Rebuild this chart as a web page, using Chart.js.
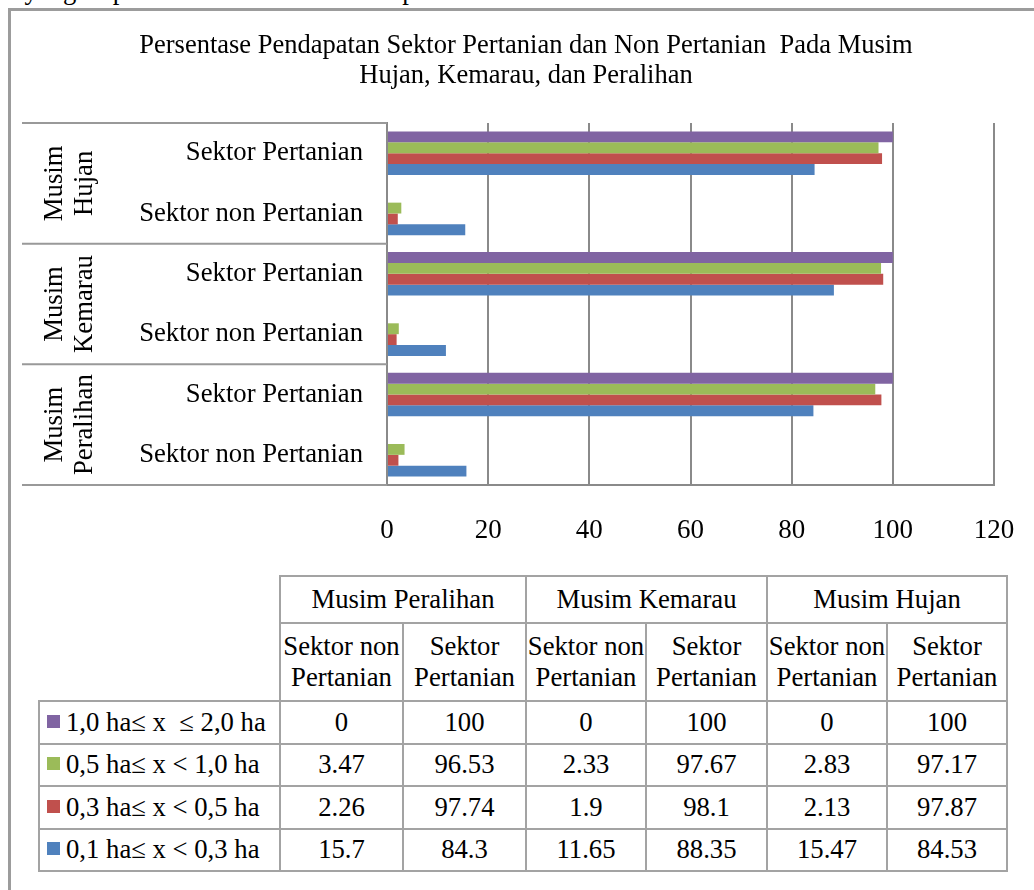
<!DOCTYPE html>
<html>
<head>
<meta charset="utf-8">
<script src="https://cdn.jsdelivr.net/npm/chart.js@4.4.1/dist/chart.umd.min.js"></script>
<style>
  html, body { margin: 0; padding: 0; background: #fff; overflow: hidden; }
  body { width: 1034px; height: 890px; position: relative; font-family: "Liberation Serif", "DejaVu Serif", serif; }
  #lead { position: absolute; left: 0px; top: -25px; font-size: 26.7px; line-height: 30px; word-spacing: 9px; white-space: nowrap; color: #000; }
  #frame { position: absolute; left: 8px; top: 8px; width: 1200px; height: 1000px; border-left: 3px solid #9c9c9c; border-top: 3px solid #9c9c9c; }
  #chart { position: absolute; left: 0; top: 0; }
  #tbl { position: absolute; left: 38px; top: 575px; border-collapse: collapse; font-size: 26.7px; color: #000; table-layout: fixed; }
  #tbl td { border: 2px solid #a3a3a3; text-align: center; padding: 0; line-height: 31px; }
  #tbl td.corner { border: none; }
  #tbl tr.h1 td { height: 45px; }
  #tbl tr.h2 td { height: 76px; }
  #tbl tr.d td { height: 40.5px; }
  #tbl td.key { text-align: left; padding-left: 7px; white-space: pre; }
  #tbl td.key span.sw { display: inline-block; width: 13px; height: 13px; margin-right: 6px; vertical-align: 3px; }
</style>
</head>
<body>
<div id="lead">- yang diperoleh dari sektor non pertanian</div>
<div id="frame"></div>
<canvas id="chart" width="1034" height="560"></canvas>
<table id="tbl"></table>
<script>
// Seasons and income sectors (category order as listed in the data table)
const seasons = ['Musim Peralihan', 'Musim Kemarau', 'Musim Hujan'];
const sectors = ['Sektor non Pertanian', 'Sektor Pertanian'];
const sectorHeader = [['Sektor non', 'Pertanian'], ['Sektor', 'Pertanian']];

// Land holding classes (series)
const landClasses = ['1,0 ha\u2264 x  \u2264 2,0 ha', '0,5 ha\u2264 x < 1,0 ha', '0,3 ha\u2264 x < 0,5 ha', '0,1 ha\u2264 x < 0,3 ha'];
const classColors = ['#8064A2', '#9BBB59', '#C0504D', '#4F81BD'];

// Income share (%) per season/sector: Peralihan non, Peralihan, Kemarau non, Kemarau, Hujan non, Hujan
const luas10to20 = [0, 100, 0, 100, 0, 100];
const luas05to10 = [3.47, 96.53, 2.33, 97.67, 2.83, 97.17];
const luas03to05 = [2.26, 97.74, 1.9, 98.1, 2.13, 97.87];
const luas01to03 = [15.7, 84.3, 11.65, 88.35, 15.47, 84.53];
const seriesValues = [luas10to20, luas05to10, luas03to05, luas01to03];

// Percentage axis
const xMin = 0, xMax = 120, xStep = 20;

const titleLines = ['Persentase Pendapatan Sektor Pertanian dan Non Pertanian  Pada Musim', 'Hujan, Kemarau, dan Peralihan'];

const serif = '"Liberation Serif", "DejaVu Serif", serif';
const lineGray = '#8a8a8a';

const categoryLabels = seasons.flatMap(() => sectors);

// Title, season group labels and separator lines in the label area
const decor = {
  id: 'decor',
  afterDraw(chart) {
    const { ctx, chartArea, scales } = chart;
    const y = scales.y;
    ctx.save();
    ctx.fillStyle = '#000';
    ctx.textAlign = 'center';
    ctx.textBaseline = 'middle';
    ctx.font = '26.5px ' + serif;
    titleLines.forEach((t, i) => ctx.fillText(t, 526, 46 + i * 30));

    ctx.strokeStyle = '#999';
    ctx.lineWidth = 2;
    const lines = [chartArea.top, chartArea.bottom];
    for (let s = 1; s < seasons.length; s++) {
      lines.push((y.getPixelForValue(s * 2 - 1) + y.getPixelForValue(s * 2)) / 2);
    }
    lines.forEach(py => {
      ctx.beginPath();
      ctx.moveTo(22, py);
      ctx.lineTo(chartArea.left, py);
      ctx.stroke();
    });

    ctx.font = '26.7px ' + serif;
    seasons.forEach((name, s) => {
      const cy = (y.getPixelForValue(s * 2) + y.getPixelForValue(s * 2 + 1)) / 2;
      const words = name.split(' ');
      ctx.save();
      ctx.translate(70, cy);
      ctx.rotate(-Math.PI / 2);
      ctx.fillText(words[0], 0, -15);
      ctx.fillText(words[1], 0, 15);
      ctx.restore();
    });
    ctx.restore();
  }
};

new Chart(document.getElementById('chart'), {
  type: 'bar',
  data: {
    labels: categoryLabels,
    datasets: landClasses.map((name, i) => ({
      label: name,
      data: seriesValues[i],
      backgroundColor: classColors[i],
      borderWidth: 0,
      categoryPercentage: 0.72,
      barPercentage: 1
    }))
  },
  options: {
    indexAxis: 'y',
    responsive: false,
    animation: false,
    devicePixelRatio: 1,
    layout: { padding: { top: 123, left: 10, right: 40, bottom: 0 } },
    plugins: {
      legend: { display: false },
      title: { display: false },
      tooltip: { enabled: false }
    },
    scales: {
      x: {
        min: xMin,
        max: xMax,
        ticks: { stepSize: xStep, color: '#000', font: { family: serif, size: 27 }, padding: 2 },
        grid: { color: lineGray, lineWidth: 2, drawTicks: true, tickLength: 28, tickColor: 'rgba(0,0,0,0)' },
        border: { color: lineGray, width: 2 },
        afterFit(scale) { scale.height = 75; }
      },
      y: {
        reverse: true,
        grid: { display: false },
        border: { display: true, color: lineGray, width: 2 },
        ticks: { color: '#000', font: { family: serif, size: 26.7 }, padding: 16, autoSkip: false },
        afterFit(scale) { scale.width = 377; }
      }
    }
  },
  plugins: [decor]
});

// Data table with legend keys
const tbl = document.getElementById('tbl');
const colWidths = [241, 123, 123, 120, 121, 120, 120];
const cg = document.createElement('colgroup');
colWidths.forEach(w => { const c = document.createElement('col'); c.style.width = w + 'px'; cg.appendChild(c); });
tbl.appendChild(cg);

const r1 = document.createElement('tr');
r1.className = 'h1';
const corner = document.createElement('td');
corner.className = 'corner';
corner.rowSpan = 2;
r1.appendChild(corner);
seasons.forEach(s => {
  const td = document.createElement('td');
  td.colSpan = 2;
  td.textContent = s;
  r1.appendChild(td);
});
tbl.appendChild(r1);

const r2 = document.createElement('tr');
r2.className = 'h2';
seasons.forEach(() => {
  sectorHeader.forEach(lines => {
    const td = document.createElement('td');
    td.innerHTML = lines.join('<br>');
    r2.appendChild(td);
  });
});
tbl.appendChild(r2);

landClasses.forEach((name, i) => {
  const tr = document.createElement('tr');
  tr.className = 'd';
  const key = document.createElement('td');
  key.className = 'key';
  const sw = document.createElement('span');
  sw.className = 'sw';
  sw.style.background = classColors[i];
  key.appendChild(sw);
  key.appendChild(document.createTextNode(name));
  tr.appendChild(key);
  seriesValues[i].forEach(v => {
    const td = document.createElement('td');
    td.textContent = String(v);
    tr.appendChild(td);
  });
  tbl.appendChild(tr);
});
</script>
</body>
</html>
